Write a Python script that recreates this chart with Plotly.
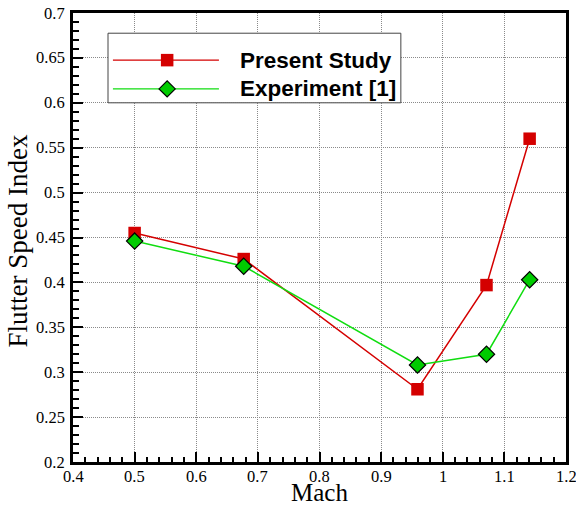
import plotly.graph_objects as go

# ---- data ----
mach = [0.5, 0.677, 0.959, 1.071, 1.141]
present_study = [0.455, 0.426, 0.281, 0.397, 0.560]
experiment = [0.446, 0.418, 0.308, 0.320, 0.403]

series_names = ["Present Study", "Experiment [1]"]

x_tick_vals = [0.4, 0.5, 0.6, 0.7, 0.8, 0.9, 1.0, 1.1, 1.2]
x_tick_text = ["0.4", "0.5", "0.6", "0.7", "0.8", "0.9", "1", "1.1", "1.2"]
y_tick_vals = [0.2, 0.25, 0.3, 0.35, 0.4, 0.45, 0.5, 0.55, 0.6, 0.65, 0.7]
y_tick_text = ["0.2", "0.25", "0.3", "0.35", "0.4", "0.45", "0.5", "0.55", "0.6", "0.65", "0.7"]
x_title = "Mach"
y_title = "Flutter Speed Index"

# ---- styles ----
RED = "#d40000"
GREEN_LINE = "#10dd10"
GREEN_FILL = "#00cc00"
SERIF = "Liberation Serif"
SANS = "Liberation Sans"

fig = go.Figure()

fig.add_trace(go.Scatter(
    x=mach, y=present_study, mode="lines+markers", name=series_names[0],
    line=dict(color=RED, width=1.5),
    marker=dict(symbol="square", size=12.5, color=RED, line=dict(width=0)),
    showlegend=False,
))
fig.add_trace(go.Scatter(
    x=mach, y=experiment, mode="lines+markers", name=series_names[1],
    line=dict(color=GREEN_LINE, width=1.5),
    marker=dict(symbol="diamond", size=12.5, color=GREEN_FILL, line=dict(color="black", width=1.2)),
    showlegend=False,
))

# ---- custom legend (on an overlay axis spanning the plot area, range 0..1) ----
legend_box = dict(x0=0.071, x1=0.665, y0=0.800, y1=0.955)
legend_line_x = [0.081, 0.296]
legend_marker_x = 0.191
legend_rows_y = [0.895, 0.831]
legend_text_x = 0.335

bx = [legend_box["x0"], legend_box["x1"], legend_box["x1"], legend_box["x0"], legend_box["x0"]]
by = [legend_box["y0"], legend_box["y0"], legend_box["y1"], legend_box["y1"], legend_box["y0"]]
fig.add_trace(go.Scatter(x=bx, y=by, mode="lines", fill="toself", fillcolor="white",
                         line=dict(color="#444444", width=1), xaxis="x2", yaxis="y2",
                         showlegend=False, hoverinfo="skip"))

styles = [
    dict(line=dict(color=RED, width=1.2),
         marker=dict(symbol="square", size=12.5, color=RED, line=dict(width=0))),
    dict(line=dict(color=GREEN_LINE, width=1.2),
         marker=dict(symbol="diamond", size=12.5, color=GREEN_FILL, line=dict(color="black", width=1.2))),
]
for name, ry, st in zip(series_names, legend_rows_y, styles):
    fig.add_trace(go.Scatter(x=legend_line_x, y=[ry, ry], mode="lines", line=st["line"],
                             xaxis="x2", yaxis="y2", showlegend=False, hoverinfo="skip"))
    fig.add_trace(go.Scatter(x=[legend_marker_x], y=[ry], mode="markers", marker=st["marker"],
                             xaxis="x2", yaxis="y2", showlegend=False, hoverinfo="skip"))
    fig.add_annotation(x=legend_text_x, y=ry, xref="x2", yref="y2", text="<b>%s</b>" % name,
                       showarrow=False, xanchor="left", yanchor="middle",
                       font=dict(family=SANS, size=22.5, color="black"))

# ---- tick labels and axis titles (serif, placed at the axis tick values) ----
tick_font = dict(family=SERIF, size=16.5, color="black")
for v, t in zip(x_tick_vals, x_tick_text):
    fig.add_annotation(x=v, y=0, xref="x", yref="y domain", text=t, showarrow=False,
                       xanchor="center", yanchor="middle", yshift=-14, font=tick_font)
for v, t in zip(y_tick_vals, y_tick_text):
    fig.add_annotation(x=0, y=v, xref="x domain", yref="y", text=t, showarrow=False,
                       xanchor="right", yanchor="middle", xshift=-6, font=tick_font)

fig.add_annotation(x=0.5, y=0, xref="x domain", yref="y domain", text=x_title, showarrow=False,
                   xanchor="center", yanchor="middle", yshift=-30,
                   font=dict(family=SERIF, size=25, color="black"))
fig.add_annotation(x=0, y=0.5, xref="x domain", yref="y domain", text=y_title, showarrow=False,
                   textangle=-90, xanchor="center", yanchor="middle", xshift=-56, yshift=-4,
                   font=dict(family=SERIF, size=27, color="black"))

axis_common = dict(
    showline=True, linecolor="black", linewidth=3, mirror=True,
    ticks="inside", ticklen=10, tickwidth=2, tickcolor="black",
    showgrid=True, gridcolor="#8a8a8a", gridwidth=1, griddash="1px,1px",
    zeroline=False, tickmode="array", showticklabels=False, automargin=False,
)

fig.update_layout(
    width=576, height=508,
    margin=dict(l=73, r=10, t=13, b=46, autoexpand=False),
    paper_bgcolor="white", plot_bgcolor="white",
    font=dict(family=SERIF, color="black", size=16),
    xaxis=dict(
        **axis_common, range=[0.4, 1.2], tickvals=x_tick_vals,
        minor=dict(dtick=0.02, tick0=0.4, ticks="inside", ticklen=5, tickwidth=1.5,
                   tickcolor="black", showgrid=False),
    ),
    yaxis=dict(
        **axis_common, range=[0.2, 0.7], tickvals=y_tick_vals,
        minor=dict(dtick=0.01, tick0=0.2, ticks="inside", ticklen=6, tickwidth=1.5,
                   tickcolor="black", showgrid=False),
    ),
    xaxis2=dict(overlaying="x", range=[0, 1], visible=False, fixedrange=True),
    yaxis2=dict(overlaying="y", range=[0, 1], visible=False, fixedrange=True),
)

fig.write_html("out.html")
